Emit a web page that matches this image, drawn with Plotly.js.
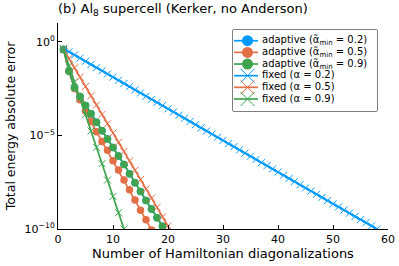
<!DOCTYPE html>
<html>
<head>
<meta charset="utf-8">
<script src="https://cdn.plot.ly/plotly-3.0.1.min.js"></script>
<style>html,body{margin:0;padding:0;background:#fff;}#chart{width:399px;height:266px;}</style>
</head>
<body>
<div id="chart"></div>
<script>
// ---- data ----
const seriesNames = [
  "adaptive (α̃<sub>min</sub> = 0.2)",
  "adaptive (α̃<sub>min</sub> = 0.5)",
  "adaptive (α̃<sub>min</sub> = 0.9)",
  "fixed (α = 0.2)",
  "fixed (α = 0.5)",
  "fixed (α = 0.9)"
];
const seriesColors = ["#009AFA", "#E36F47", "#3EA44E", "#009AFA", "#E36F47", "#3EA44E"];

const adaptive02Iter = [1,2,3,4,5,6,7,8,9,10,11,12,13,14,15,16,17,18,19];
const adaptive02Err = [3.89e-1,2.69e-2,3.47e-3,1.20e-3,3.98e-4,1.41e-4,5.01e-5,1.78e-5,6.31e-6,2.24e-6,
  7.94e-7,2.82e-7,8.91e-8,2.95e-8,1.00e-8,3.31e-9,1.17e-9,3.98e-10,1.41e-10];

const adaptive05Iter = [1,2,3,4,5,6,7,8,9,10,11,12,13,14,15,16,17];
const adaptive05Err = [3.89e-1,2.69e-2,3.16e-3,7.94e-4,2.00e-4,5.50e-5,1.58e-5,4.68e-6,1.58e-6,4.47e-7,
  1.41e-7,4.17e-8,1.26e-8,3.55e-9,1.00e-9,3.16e-10,8.91e-11];

const adaptive09Iter = [1,2,3,4,5,6,7,8,9,10,11,12,13,14,15,16,17,18,19];
const adaptive09Err = [3.89e-1,2.69e-2,3.47e-3,1.20e-3,3.98e-4,1.41e-4,5.01e-5,1.78e-5,6.31e-6,2.24e-6,
  7.94e-7,2.82e-7,8.91e-8,2.95e-8,1.00e-8,3.31e-9,1.17e-9,3.98e-10,1.41e-10];

const fixed02Iter = [1,2,3,4,5,6,7,8,9,10,11,12,13,14,15,16,17,18,19,20,21,22,23,24,25,26,27,28,29,30,
  31,32,33,34,35,36,37,38,39,40,41,42,43,44,45,46,47,48,49,50,51,52,53,54,55,56,57,58];
const fixed02Err = [4.27e-1,2.89e-1,1.96e-1,1.33e-1,9.0e-2,6.1e-2,4.13e-2,2.8e-2,1.9e-2,1.29e-2,
  8.7e-3,5.9e-3,4.0e-3,2.71e-3,1.84e-3,1.24e-3,8.4e-4,5.7e-4,3.9e-4,2.6e-4,
  1.78e-4,1.2e-4,8.2e-5,5.5e-5,3.7e-5,2.5e-5,1.72e-5,1.17e-5,7.9e-6,5.4e-6,
  3.6e-6,2.5e-6,1.67e-6,1.13e-6,7.7e-7,5.2e-7,3.5e-7,2.4e-7,1.61e-7,1.09e-7,
  7.4e-8,5.0e-8,3.4e-8,2.3e-8,1.56e-8,1.06e-8,7.2e-9,4.9e-9,3.3e-9,2.2e-9,
  1.51e-9,1.03e-9,7.0e-10,4.7e-10,3.2e-10,2.2e-10,1.47e-10,9.9e-11];

const fixed05Iter = [1,2,3,4,5,6,7,8,9,10,11,12,13,14,15,16,17,18,19,20,21];
const fixed05Err = [3.98e-1,1.27e-1,4.04e-2,1.29e-2,4.09e-3,1.30e-3,4.15e-4,1.32e-4,4.21e-5,1.34e-5,
  4.27e-6,1.36e-6,4.33e-7,1.38e-7,4.39e-8,1.40e-8,4.45e-9,1.42e-9,4.51e-10,1.44e-10,4.6e-11];

const fixed09Iter = [1,2,3,4,5,6,7,8,9,10,11,12];
const fixed09Err = [3.98e-1,5.33e-2,7.14e-3,9.57e-4,1.28e-4,1.72e-5,2.30e-6,3.08e-7,4.13e-8,5.53e-9,7.41e-10,9.93e-11];

const xTicks = [0,10,20,30,40,50,60];
const yTickVals = [1, 1e-5, 1e-10];
const yTickText = ["10<sup>0</sup>", "10<sup>−5</sup>", "10<sup>−10</sup>"];
const legendRows = [1,2,3,4,5,6];

// ---- traces ----
const FONT = "DejaVu Sans, Liberation Sans, sans-serif";
const xs = [adaptive02Iter, adaptive05Iter, adaptive09Iter, fixed02Iter, fixed05Iter, fixed09Iter];
const ys = [adaptive02Err, adaptive05Err, adaptive09Err, fixed02Err, fixed05Err, fixed09Err];

function markerFor(i) {
  if (i < 3) return {symbol: "circle", size: 7.5, color: seriesColors[i], line: {width: 0}};
  return {symbol: "x-thin", size: 7, color: seriesColors[i], line: {color: seriesColors[i], width: 1}};
}

const traces = [];
for (let i = 0; i < 6; i++) {
  traces.push({
    x: xs[i], y: ys[i], type: "scatter", mode: "lines+markers",
    name: seriesNames[i], showlegend: false, cliponaxis: true,
    line: {color: seriesColors[i], width: i === 3 ? 2 : 1.7},
    marker: markerFor(i),
    xaxis: "x", yaxis: "y"
  });
}

// custom legend (drawn in its own small axes)
for (let i = 0; i < 6; i++) {
  traces.push({
    x: [1, 25], y: [legendRows[i], legendRows[i]], type: "scatter", mode: "lines",
    line: {color: seriesColors[i], width: 1.7}, showlegend: false, hoverinfo: "skip",
    xaxis: "x2", yaxis: "y2"
  });
  const m = markerFor(i);
  traces.push({
    x: [14.5], y: [legendRows[i]], type: "scatter", mode: "markers",
    marker: i < 3 ? Object.assign({}, m, {size: 11}) : Object.assign({}, m, {size: 14}),
    showlegend: false, hoverinfo: "skip", xaxis: "x2", yaxis: "y2"
  });
}
traces.push({
  x: legendRows.map(() => 29), y: legendRows, type: "scatter", mode: "text",
  text: seriesNames, textposition: "middle right",
  textfont: {family: FONT, size: 10, color: "#000"},
  showlegend: false, hoverinfo: "skip", xaxis: "x2", yaxis: "y2"
});

const L = 58, R = 388, T = 23, B = 229;
const lx0 = (233 - L) / (R - L), lx1 = (377 - L) / (R - L);
const ly0 = (B - 111) / (B - T), ly1 = (B - 30) / (B - T);

const layout = {
  width: 399, height: 266,
  margin: {l: L, r: 399 - R, t: T, b: 266 - B, pad: 0},
  paper_bgcolor: "#fff", plot_bgcolor: "#fff",
  font: {family: FONT, size: 11, color: "#000"},
  showlegend: false,
  title: {
    text: "(b) Al<sub>8</sub> supercell (Kerker, no Anderson)",
    font: {family: FONT, size: 13, color: "#000"},
    xref: "paper", x: 0, xanchor: "left",
    yref: "container", y: 1 - 8.5 / 266, yanchor: "middle"
  },
  xaxis: {
    range: [0, 60], tickvals: xTicks, ticks: "inside", ticklen: 4, tickwidth: 1,
    tickcolor: "#000", showline: true, linecolor: "#000", linewidth: 1,
    showgrid: false, zeroline: false, mirror: false,
    tickfont: {family: FONT, size: 11, color: "#000"},
    title: {text: "Number of Hamiltonian diagonalizations", font: {family: FONT, size: 13, color: "#000"}, standoff: 3},
    automargin: false
  },
  yaxis: {
    type: "log", range: [-10, 1], tickvals: yTickVals, ticktext: yTickText,
    ticks: "inside", ticklen: 4, tickwidth: 1, tickcolor: "#000",
    showline: true, linecolor: "#000", linewidth: 1,
    showgrid: false, zeroline: false, mirror: false,
    tickfont: {family: FONT, size: 11, color: "#000"},
    title: {text: "Total energy absolute error", font: {family: FONT, size: 12.5, color: "#000"}, standoff: 6},
    automargin: false
  },
  xaxis2: {domain: [lx0, lx1], range: [0, 144], visible: false, fixedrange: true, anchor: "y2"},
  yaxis2: {domain: [ly0, ly1], range: [7.03, 0.08], visible: false, fixedrange: true, anchor: "x2"},
  shapes: [{
    type: "rect", xref: "paper", yref: "paper",
    x0: lx0, x1: lx1, y0: ly0, y1: ly1,
    line: {color: "#000", width: 1}, fillcolor: "#fff", layer: "below"
  }]
};

Plotly.newPlot("chart", traces, layout, {staticPlot: true, displayModeBar: false});
</script>
</body>
</html>
